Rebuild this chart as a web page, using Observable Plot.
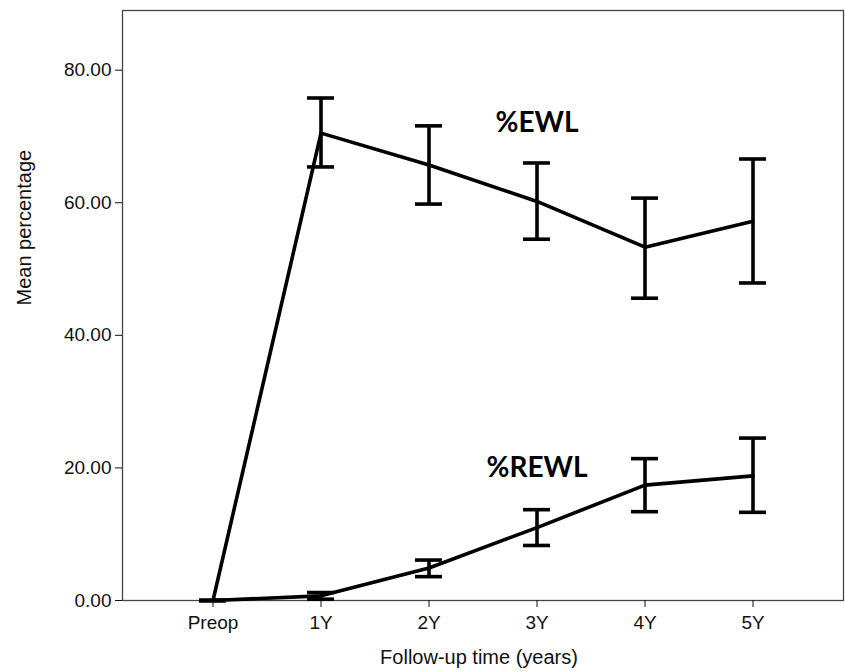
<!DOCTYPE html>
<html>
<head>
<meta charset="utf-8">
<script src="https://cdn.jsdelivr.net/npm/d3@7"></script>
<script src="https://cdn.jsdelivr.net/npm/@observablehq/plot@0.6"></script>
<style>
  html, body { margin: 0; padding: 0; background: #fff; }
  #chart svg { display: block; }
</style>
</head>
<body>
<div id="chart"></div>
<script>
// Categories (x axis)
const categories = ["Preop", "1Y", "2Y", "3Y", "4Y", "5Y"];

// %EWL: mean and error-bar bounds
const ewlMean = [0, 70.5, 65.7, 60.2, 53.3, 57.2];
const ewlLow  = [0, 65.4, 59.8, 54.5, 45.6, 47.9];
const ewlHigh = [0, 75.8, 71.6, 66.0, 60.7, 66.6];

// %REWL: mean and error-bar bounds
const rewlMean = [0, 0.7, 4.9, 11.0, 17.4, 18.8];
const rewlLow  = [0, 0.2, 3.6, 8.3, 13.4, 13.3];
const rewlHigh = [0, 1.2, 6.1, 13.7, 21.4, 24.5];

// Y axis ticks
const yTicks = [0, 20, 40, 60, 80];

// Axis titles
const xTitle = "Follow-up time (years)";
const yTitle = "Mean percentage";

// In-chart series labels
const seriesNames = ["%EWL", "%REWL"];
const labelX = ["3Y", "3Y"];
const labelY = [72, 20];

const rows = [];
categories.forEach((c, i) => {
  rows.push({cat: c, series: "%EWL", mean: ewlMean[i], lo: ewlLow[i], hi: ewlHigh[i]});
});
categories.forEach((c, i) => {
  rows.push({cat: c, series: "%REWL", mean: rewlMean[i], lo: rewlLow[i], hi: rewlHigh[i]});
});
const labels = seriesNames.map((s, i) => ({name: s, x: labelX[i], y: labelY[i]}));

const SW = 3.6;
const FONT = "'Liberation Sans', Arial, sans-serif";

const chart = Plot.plot({
  width: 845,
  height: 672,
  marginLeft: 122,
  marginRight: 2,
  marginTop: 10,
  marginBottom: 72,
  style: {fontFamily: FONT, fontSize: "19px", color: "#111", background: "#fff"},
  x: {type: "band", domain: categories, paddingInner: 0.752, paddingOuter: 0.688},
  y: {domain: [0, 89]},
  marks: [
    Plot.frame({stroke: "#444", strokeWidth: 1.3}),
    Plot.axisY({ticks: yTicks, tickFormat: d3.format(".2f"), tickSize: 7, tickPadding: 4,
      label: null, fontSize: 19}),
    Plot.axisX({tickSize: 7, tickPadding: 8, label: null, fontSize: 19}),
    Plot.text([yTitle], {frameAnchor: "left", dx: -98, rotate: -90, fontSize: 20, fill: "#111"}),
    Plot.text([xTitle], {frameAnchor: "bottom", dy: 63, dx: -4, fontSize: 20, fill: "#111"}),
    Plot.ruleX(rows, {x: "cat", y1: "lo", y2: "hi", stroke: "#000", strokeWidth: SW}),
    Plot.tickY(rows, {x: "cat", y: "lo", stroke: "#000", strokeWidth: SW}),
    Plot.tickY(rows, {x: "cat", y: "hi", stroke: "#000", strokeWidth: SW}),
    Plot.line(rows, {x: "cat", y: "mean", z: "series", stroke: "#000", strokeWidth: SW}),
    Plot.text(labels, {x: "x", y: "y", text: "name", fontFamily: "Lato, 'Open Sans', sans-serif",
      fontWeight: "bold", fontSize: 28, fill: "#000"})
  ]
});
document.getElementById("chart").appendChild(chart);
</script>
</body>
</html>
